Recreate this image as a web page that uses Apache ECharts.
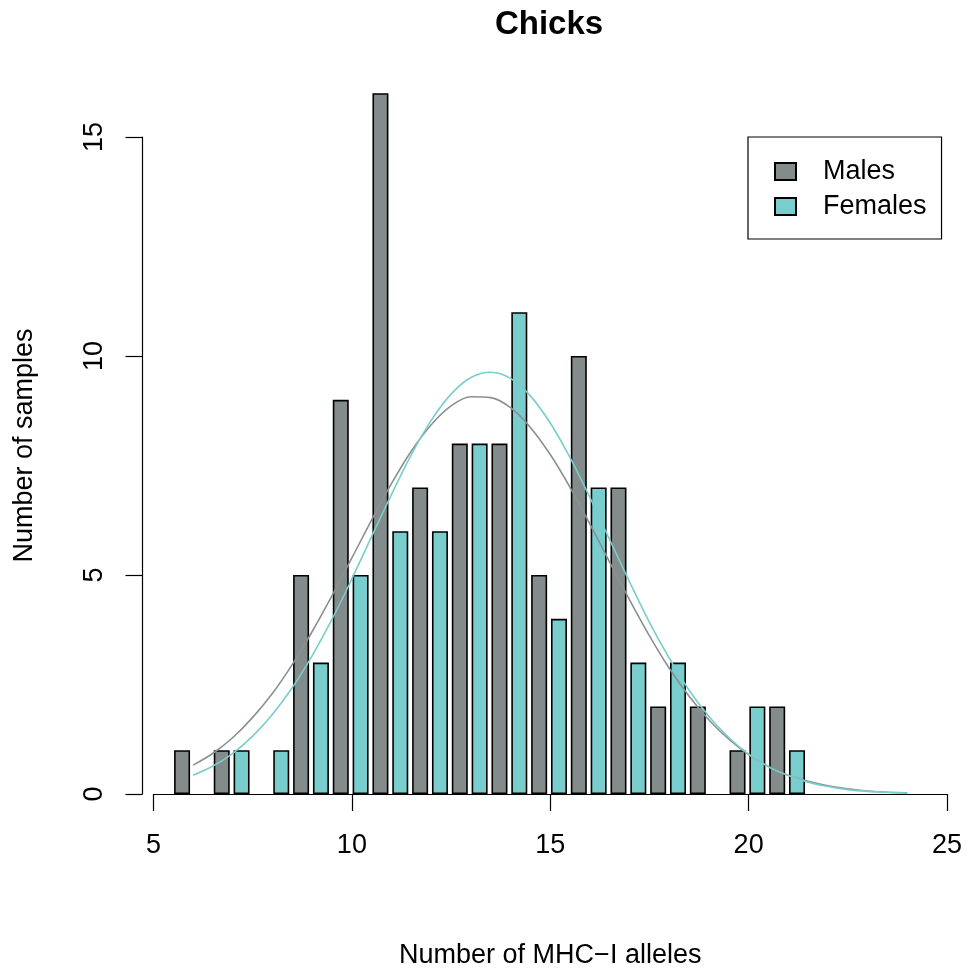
<!DOCTYPE html>
<html>
<head>
<meta charset="utf-8">
<title>Chicks</title>
<script src="https://cdn.jsdelivr.net/npm/echarts@6/dist/echarts.min.js"></script>
<style>
  html, body { margin: 0; padding: 0; background: #fff; }
  #chart { width: 967px; height: 975px; }
</style>
</head>
<body>
<div id="chart"></div>
<script>
// allele counts and number of samples
const maleAlleles = [6, 7, 9, 10, 11, 12, 13, 14, 15, 16, 17, 18, 19, 20, 21];
const maleCounts = [1, 1, 5, 9, 16, 7, 8, 8, 5, 10, 7, 2, 2, 1, 2];
const femaleAlleles = [7, 8, 9, 10, 11, 12, 13, 14, 15, 16, 17, 18, 20, 21];
const femaleCounts = [1, 1, 3, 5, 6, 6, 8, 11, 4, 7, 3, 3, 2, 1];

// fitted curves, sampled every half allele from 6 to 24
const curveX = [6, 6.5, 7, 7.5, 8, 8.5, 9, 9.5, 10, 10.5, 11, 11.5, 12, 12.5, 13, 13.5,
  14, 14.5, 15, 15.5, 16, 16.5, 17, 17.5, 18, 18.5, 19, 19.5, 20, 20.5, 21, 21.5,
  22, 22.5, 23, 23.5, 24];
const maleCurve = [0.66, 0.93, 1.29, 1.75, 2.30, 2.96, 3.71, 4.53, 5.39, 6.26, 7.09, 7.83,
  8.43, 8.86, 9.07, 9.05, 8.82, 8.37, 7.75, 7.00, 6.16, 5.29, 4.43, 3.61, 2.87, 2.23,
  1.69, 1.25, 0.90, 0.63, 0.43, 0.29, 0.19, 0.12, 0.07, 0.04, 0.03];
const femaleCurve = [0.43, 0.64, 0.93, 1.32, 1.82, 2.43, 3.16, 3.99, 4.91, 5.88, 6.84, 7.75,
  8.53, 9.13, 9.51, 9.63, 9.49, 9.09, 8.47, 7.68, 6.77, 5.80, 4.84, 3.92, 3.10, 2.37,
  1.77, 1.29, 0.91, 0.62, 0.42, 0.27, 0.17, 0.10, 0.06, 0.04, 0.02];

const xTicks = [5, 25, 5];   // min, max, step
const yTicks = [0, 15, 5];

// bars of the two groups sit side by side around each allele count
const maleShift = -0.28;
const femaleShift = 0.22;

const grey = '#838B8B';
const teal = '#79CDCD';
const font = 'Liberation Sans, Arial, Helvetica, sans-serif';

const chart = echarts.init(document.getElementById('chart'));

function pairs(xs, ys, shift) {
  return xs.map((x, i) => [x + shift, ys[i]]);
}

chart.setOption({
  animation: false,
  title: {
    text: 'Chicks',
    left: 549,
    top: 8,
    padding: 0,
    textAlign: 'center',
    textStyle: { fontFamily: font, fontSize: 33, fontWeight: 'bold', color: '#000' }
  },
  legend: {
    data: ['Males', 'Females'],
    orient: 'vertical',
    left: 748,
    top: 137,
    padding: [21, 15, 19, 26],
    itemWidth: 21,
    itemHeight: 17,
    itemGap: 8,
    borderColor: '#000',
    borderWidth: 1.2,
    borderRadius: 0,
    icon: 'rect',
    selectedMode: false,
    textStyle: {
      fontFamily: font, fontSize: 27, lineHeight: 27, color: '#000',
      padding: [0, 0, 0, 22]
    }
  },
  grid: { left: 153.5, right: 20, top: 137, bottom: 181, containLabel: false },
  xAxis: {
    type: 'value',
    min: xTicks[0],
    max: xTicks[1],
    interval: xTicks[2],
    name: 'Number of MHC\u2212I alleles',
    nameLocation: 'middle',
    nameGap: 148,
    nameTextStyle: { fontFamily: font, fontSize: 27, color: '#000' },
    axisLine: { onZero: false, lineStyle: { color: '#000', width: 1.2 } },
    axisTick: { length: 17, lineStyle: { color: '#000', width: 1.2 } },
    axisLabel: { margin: 38, fontFamily: font, fontSize: 27, color: '#000' },
    splitLine: { show: false }
  },
  yAxis: {
    type: 'value',
    min: yTicks[0],
    max: yTicks[1],
    interval: yTicks[2],
    offset: 11,
    name: 'Number of samples',
    nameLocation: 'middle',
    nameRotate: 90,
    nameGap: 104,
    nameTextStyle: { fontFamily: font, fontSize: 27, color: '#000', padding: [0, 0, 0, 40] },
    axisLine: { show: true, lineStyle: { color: '#000', width: 1.2 } },
    axisTick: { show: true, length: 17, lineStyle: { color: '#000', width: 1.2 } },
    axisLabel: { rotate: 90, margin: 34, fontFamily: font, fontSize: 27, color: '#000' },
    splitLine: { show: false }
  },
  series: [
    {
      name: 'Males',
      type: 'bar',
      barWidth: 16,
      barGap: '-100%',
      clip: false,
      data: pairs(maleAlleles, maleCounts, maleShift),
      itemStyle: { color: grey, borderColor: '#000', borderWidth: 1.6 }
    },
    {
      name: 'Females',
      type: 'bar',
      barWidth: 16,
      barGap: '-100%',
      clip: false,
      data: pairs(femaleAlleles, femaleCounts, femaleShift),
      itemStyle: { color: teal, borderColor: '#000', borderWidth: 1.6 }
    },
    {
      name: 'Males fit',
      type: 'line',
      smooth: 0.35,
      showSymbol: false,
      z: 5,
      data: pairs(curveX, maleCurve, 0),
      lineStyle: { color: '#8a9090', width: 1.6 }
    },
    {
      name: 'Females fit',
      type: 'line',
      smooth: 0.35,
      showSymbol: false,
      z: 5,
      data: pairs(curveX, femaleCurve, 0),
      lineStyle: { color: teal, width: 1.6 }
    }
  ]
});
</script>
</body>
</html>
